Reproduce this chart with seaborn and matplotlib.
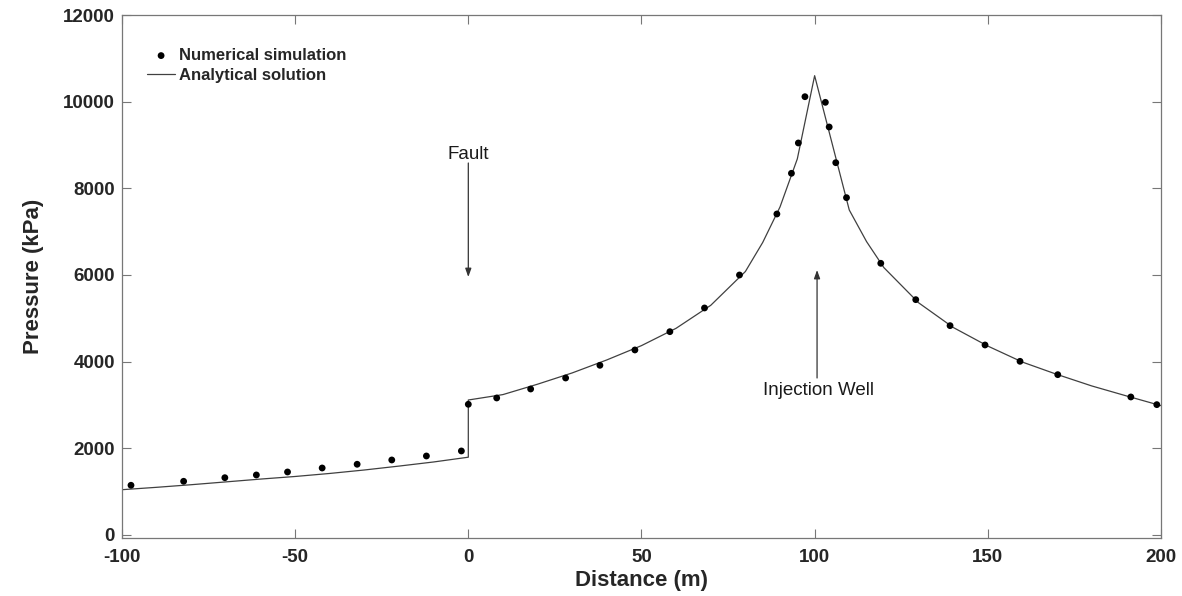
import numpy as np
import pandas as pd
import matplotlib
matplotlib.use("Agg")
import matplotlib.pyplot as plt
import seaborn as sns

# Numerical simulation (dots)
sim_x = [-97.4, -82.2, -70.3, -61.2, -52.2, -42.2, -32.1, -22.1, -12.1, -2.0,
         0.0, 8.2, 18.0, 28.1, 38.0, 48.1, 58.2, 68.2, 78.3, 89.1, 93.3, 95.3, 97.2,
         103.1, 104.2, 106.1, 109.2, 119.1, 129.2, 139.1, 149.2, 159.3, 170.2, 191.3, 198.8]
sim_p = [1147, 1239, 1322, 1385, 1454, 1546, 1632, 1731, 1823, 1939,
         3016, 3162, 3369, 3623, 3916, 4270, 4692, 5239, 6000, 7408, 8347, 9047, 10115,
         9985, 9416, 8592, 7785, 6270, 5431, 4831, 4385, 4008, 3700, 3185, 3008]

# Analytical solution (line)
ana_x = [-100, -90, -80, -70, -60, -50, -40, -30, -20, -10, 0,
         0, 10, 20, 30, 40, 50, 60, 70, 80, 85, 90, 95, 100,
         105, 110, 115, 120, 130, 140, 150, 160, 170, 180, 190, 200]
ana_p = [1045, 1100, 1160, 1225, 1290, 1350, 1420, 1500, 1590, 1685, 1795,
         3115, 3240, 3480, 3740, 4040, 4370, 4770, 5300, 6080, 6750, 7570, 8680, 10600,
         9050, 7500, 6770, 6170, 5360, 4790, 4360, 3990, 3705, 3440, 3210, 2985]

x_ticks = [-100, -50, 0, 50, 100, 150, 200]
y_ticks = [0, 2000, 4000, 6000, 8000, 10000, 12000]

sim_df = pd.DataFrame({"x": sim_x, "p": sim_p})
ana_df = pd.DataFrame({"x": ana_x, "p": ana_p})

sns.set_style("ticks")
plt.rcParams["font.family"] = ["Liberation Sans", "DejaVu Sans"]
plt.rcParams["axes.unicode_minus"] = False

fig = plt.figure(figsize=(11.82, 5.96), dpi=100)
ax = fig.add_axes([0.1032, 0.0973, 0.8790, 0.8775])

sns.lineplot(data=ana_df, x="x", y="p", sort=False, estimator=None, ax=ax,
             color="#404040", linewidth=0.9, label="Analytical solution")
sns.scatterplot(data=sim_df, x="x", y="p", ax=ax, color="black", s=24,
                edgecolor="none", label="Numerical simulation", zorder=3)

ax.set_xlim(-100, 200)
ax.set_ylim(-70, 12000)
ax.set_xticks(x_ticks)
ax.set_yticks(y_ticks)
ax.set_xlabel("Distance (m)", fontsize=16, fontweight="bold", color="#262626", labelpad=3)
ax.set_ylabel("Pressure (kPa)", fontsize=16, fontweight="bold", color="#262626", labelpad=14)

for s in ax.spines.values():
    s.set_visible(True)
    s.set_color("#777777")
    s.set_linewidth(0.9)
ax.tick_params(direction="in", length=6.5, width=0.8, color="#777777",
               top=True, right=True, labelsize=13.5, labelcolor="#262626", pad=5)
ax.tick_params(axis="x", pad=8)
for lab in ax.get_xticklabels() + ax.get_yticklabels():
    lab.set_fontweight("bold")

# Annotations
ax.annotate("", xy=(0, 5954), xytext=(0, 8585),
            arrowprops=dict(arrowstyle="-|>,head_length=0.5,head_width=0.18",
                            color="#333333", lw=0.9, shrinkA=0, shrinkB=0))
ax.text(0, 8790, "Fault", ha="center", va="center", fontsize=13.5, color="#1a1a1a")
ax.annotate("", xy=(100.7, 6115), xytext=(100.7, 3623),
            arrowprops=dict(arrowstyle="-|>,head_length=0.5,head_width=0.18",
                            color="#333333", lw=0.9, shrinkA=0, shrinkB=0))
ax.text(101.2, 3323, "Injection Well", ha="center", va="center", fontsize=13.5, color="#1a1a1a")

handles, labels = ax.get_legend_handles_labels()
order = [labels.index("Numerical simulation"), labels.index("Analytical solution")]
leg = ax.legend([handles[i] for i in order], [labels[i] for i in order],
                loc="upper left", bbox_to_anchor=(0.024, 0.937), frameon=False,
                borderpad=0, borderaxespad=0, handlelength=1.7, handletextpad=0.2,
                labelspacing=0.3, prop={"size": 12, "weight": "bold"})

fig.savefig("out.png", dpi=100)
